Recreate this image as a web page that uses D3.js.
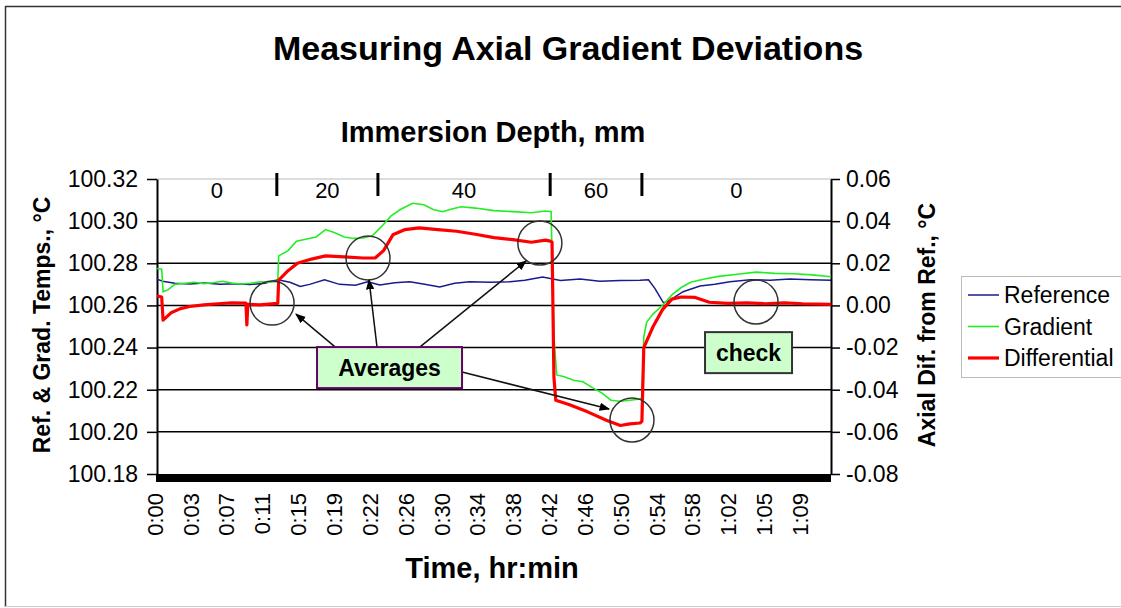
<!DOCTYPE html>
<html>
<head>
<meta charset="utf-8">
<script src="https://cdn.jsdelivr.net/npm/d3@7"></script>
<style>
  body { margin: 0; background: #fff; }
  text { font-family: "Liberation Sans", Arial, sans-serif; fill: #000; }
</style>
</head>
<body>
<div id="viz"></div>
<script>
// time axis labels (one every ~3.83 min)
const timeLabels = ["0:00", "0:03", "0:07", "0:11", "0:15", "0:19", "0:22", "0:26", "0:30", "0:34",
                    "0:38", "0:42", "0:46", "0:50", "0:54", "0:58", "1:02", "1:05", "1:09"];
const timeStep = 3.83;

// immersion depth segments (minutes)
const depthLabels = ["0", "20", "40", "60", "0"];
const depthBreaks = [0, 12.8, 23.6, 42.0, 51.8, 72];

const leftTicks = [100.18, 100.20, 100.22, 100.24, 100.26, 100.28, 100.30, 100.32];
const rightTicks = [-0.08, -0.06, -0.04, -0.02, 0.00, 0.02, 0.04, 0.06];

// [minutes, °C]
const reference = [
  [0, 100.2725], [0.6, 100.2715], [1.9, 100.2705], [3.5, 100.2702], [5.1, 100.2706], [6.7, 100.2700],
  [8.3, 100.2703], [9.9, 100.2699], [11.5, 100.2705], [12.9, 100.2722], [14.2, 100.2710], [15.3, 100.2690],
  [16.3, 100.2700], [17.9, 100.2722], [19.5, 100.2700], [21.2, 100.2696], [22.5, 100.2712], [23.8, 100.2697],
  [25.4, 100.2708], [27.0, 100.2712], [28.6, 100.2700], [30.2, 100.2687], [31.8, 100.2705], [33.4, 100.2712],
  [35.6, 100.2710], [37.7, 100.2712], [39.3, 100.2720], [41.2, 100.2735], [43.1, 100.2718], [45.2, 100.2725],
  [47.3, 100.2715], [49.5, 100.2718], [51.6, 100.2720], [52.5, 100.2722], [53.2, 100.2680], [54.1, 100.2612],
  [54.8, 100.2625], [56.2, 100.2665], [58.0, 100.2692], [59.6, 100.2700], [61.2, 100.2712], [63.4, 100.2722],
  [65.5, 100.2720], [67.6, 100.2726], [69.8, 100.2722], [72, 100.2720]
];

const gradient = [
  [0, 100.2775], [0.5, 100.2772], [0.65, 100.2665], [1.2, 100.2675], [1.9, 100.2700], [3, 100.2705],
  [4, 100.2710], [5, 100.2703], [6, 100.2708], [7, 100.2715], [8, 100.2706], [9, 100.2702], [10, 100.2705],
  [11, 100.2712], [12, 100.2710], [12.9, 100.2715], [13.0, 100.2835], [14.0, 100.2860], [14.9, 100.2905],
  [16, 100.2915], [17, 100.2925], [18, 100.2960], [19, 100.2945], [20, 100.2925], [21, 100.2918],
  [22, 100.2920], [23, 100.2930], [24, 100.2975], [25, 100.3025], [26, 100.3055], [27.3, 100.3085],
  [28.5, 100.3078], [29.5, 100.3055], [30.5, 100.3045], [31.5, 100.3058], [32.5, 100.3068], [34, 100.3062],
  [36, 100.3050], [38, 100.3045], [40, 100.3040], [41.5, 100.3048], [42.1, 100.3045], [42.4, 100.2450],
  [42.7, 100.2270], [43.5, 100.2262], [44.5, 100.2245], [45.5, 100.2238], [46.5, 100.2210], [47.5, 100.2185],
  [48.5, 100.2150], [49.5, 100.2145], [50.5, 100.2150], [51.4, 100.2155], [51.8, 100.2160], [52.0, 100.2450],
  [52.3, 100.2520], [53, 100.2560], [54, 100.2600], [55, 100.2650], [56, 100.2685], [57, 100.2710],
  [58.5, 100.2725], [60, 100.2738], [62, 100.2748], [64, 100.2758], [66, 100.2752], [68, 100.2750],
  [70, 100.2745], [72, 100.2736]
];

// [minutes, axial difference °C] (right axis)
const differential = [
  [0, 0.0045], [0.5, 0.0040], [0.65, -0.0070], [1.5, -0.0035], [2.5, -0.0015], [3.5, -0.0005], [5, 0.0003],
  [6.5, 0.0008], [8, 0.0012], [9.5, 0.0011], [9.6, -0.0092], [9.7, 0.0005], [11, 0.0003], [12.9, 0.0010],
  [13.0, 0.0120], [14.0, 0.0165], [15, 0.0200], [16.5, 0.0220], [18, 0.0235], [20, 0.0230], [22, 0.0225],
  [23.3, 0.0225], [24.2, 0.0260], [25.2, 0.0335], [26.5, 0.0360], [28, 0.0368], [30, 0.0360], [32, 0.0352],
  [34, 0.0338], [36, 0.0322], [38, 0.0312], [40, 0.0300], [41.5, 0.0310], [42, 0.0305], [42.2, 0.0300],
  [42.4, -0.0340], [42.6, -0.0450], [44, -0.0470], [46, -0.0505], [48, -0.0545], [49.5, -0.0570],
  [50.5, -0.0562], [51.6, -0.0558], [51.8, -0.0550], [52.0, -0.0200], [53, -0.0100], [54, -0.0020],
  [55, 0.0030], [56, 0.0040], [57.5, 0.0038], [59, 0.0015], [61, 0.0010], [63, 0.0012], [65, 0.0008],
  [67, 0.0012], [69, 0.0008], [72, 0.0005]
];

// annotations in data coordinates [minutes, °C]
const avgCircles = [[12.29, 100.2611], [22.54, 100.2825], [40.9, 100.2896], [50.74, 100.2056]];
const checkCircle = [63.99, 100.2616];
const averagesBox = [24.84, 100.2305];
const checkBox = [63.19, 100.2376];
const avgArrows = [
  [[19.02, 100.2403], [14.85, 100.2559]],
  [[23.5, 100.2403], [22.65, 100.2721]],
  [[28.1, 100.2403], [39.42, 100.2811]],
  [[32.58, 100.2284], [48.29, 100.2108]]
];

const width = 1121;
const height = 608;

const svg = d3.select("#viz").append("svg")
    .attr("width", width)
    .attr("height", height);

// outer frame
svg.append("line").attr("x1", 5.5).attr("x2", 5.5).attr("y1", 6).attr("y2", 607).attr("stroke", "#333").attr("stroke-width", 1.5);
svg.append("line").attr("x1", 5).attr("x2", 1121).attr("y1", 6.5).attr("y2", 6.5).attr("stroke", "#333").attr("stroke-width", 1.5);
svg.append("line").attr("x1", 5).attr("x2", 1121).attr("y1", 606.5).attr("y2", 606.5).attr("stroke", "#ccc");

const x = d3.scaleLinear().domain([0, 72]).range([157, 831]);
const yL = d3.scaleLinear().domain([100.18, 100.32]).range([474, 179]);
const yR = d3.scaleLinear().domain([-0.08, 0.06]).range([474, 179]);

// gridlines
svg.append("g")
  .selectAll("line")
  .data(leftTicks.slice(1, -1))
  .enter().append("line")
    .attr("x1", x(0)).attr("x2", x(72))
    .attr("y1", d => yL(d)).attr("y2", d => yL(d))
    .attr("stroke", "#000").attr("stroke-width", 1.5);

svg.append("line")
    .attr("x1", x(0)).attr("x2", x(72))
    .attr("y1", yL(100.32)).attr("y2", yL(100.32))
    .attr("stroke", "#bbb").attr("stroke-width", 1);

// left axis
const leftAxis = svg.append("g")
    .attr("transform", `translate(${x(0)},0)`)
    .call(d3.axisLeft(yL).tickValues(leftTicks).tickFormat(d3.format(".2f")).tickSize(10).tickSizeOuter(0));

// right axis
const rightAxis = svg.append("g")
    .attr("transform", `translate(${x(72)},0)`)
    .call(d3.axisRight(yR).tickValues(rightTicks).tickFormat(d3.format(".2f")).tickSize(9).tickSizeOuter(0));

[leftAxis, rightAxis].forEach(g => {
  g.select(".domain").attr("stroke", "#000").attr("stroke-width", 2);
  g.selectAll(".tick line").attr("stroke", "#000").attr("stroke-width", 1.5);
  g.selectAll(".tick text").attr("font-size", 23).attr("font-family", "Liberation Sans, Arial, sans-serif").attr("fill", "#111");
});
leftAxis.selectAll(".tick text").attr("x", -19);
rightAxis.selectAll(".tick text").attr("x", 15).text(d => d3.format(".2f")(d).replace("−", "-"));

// bottom axis (heavy bar) with rotated time labels
svg.append("rect")
    .attr("x", x(0) - 1).attr("y", yL(100.18))
    .attr("width", x(72) - x(0) + 1).attr("height", 8)
    .attr("fill", "#000");

svg.append("g")
  .selectAll("text")
  .data(timeLabels)
  .enter().append("text")
    .attr("transform", (d, i) => `translate(${x(i * timeStep) - 2},493) rotate(-90)`)
    .attr("text-anchor", "end")
    .attr("dy", "0.35em")
    .attr("font-size", 22)
    .attr("fill", "#111")
    .text(d => d);

// depth segments
svg.append("g")
  .selectAll("line")
  .data(depthBreaks.slice(1, -1))
  .enter().append("line")
    .attr("x1", d => x(d)).attr("x2", d => x(d))
    .attr("y1", 173).attr("y2", 196)
    .attr("stroke", "#000").attr("stroke-width", 3);

svg.append("g")
  .selectAll("text")
  .data(depthLabels)
  .enter().append("text")
    .attr("x", (d, i) => x((depthBreaks[i] + depthBreaks[i + 1]) / 2))
    .attr("y", 198)
    .attr("text-anchor", "middle")
    .attr("font-size", 22)
    .text(d => d);

// series
const lineL = d3.line().x(d => x(d[0])).y(d => yL(d[1]));
const lineR = d3.line().x(d => x(d[0])).y(d => yR(d[1]));

svg.append("path").datum(reference).attr("d", lineL)
    .attr("fill", "none").attr("stroke", "#1a1a8c").attr("stroke-width", 1.5);
svg.append("path").datum(gradient).attr("d", lineL)
    .attr("fill", "none").attr("stroke", "#22ee22").attr("stroke-width", 1.6);
svg.append("path").datum(differential).attr("d", lineR)
    .attr("fill", "none").attr("stroke", "#ff0000").attr("stroke-width", 3.2).attr("stroke-linejoin", "round");

// annotation circles
svg.append("g")
  .selectAll("circle")
  .data(avgCircles.concat([checkCircle]))
  .enter().append("circle")
    .attr("cx", d => x(d[0])).attr("cy", d => yL(d[1]))
    .attr("r", 22)
    .attr("fill", "none").attr("stroke", "#333").attr("stroke-width", 1.5);

// arrows
svg.append("defs").append("marker")
    .attr("id", "arrow")
    .attr("viewBox", "0 0 10 10")
    .attr("refX", 9).attr("refY", 5)
    .attr("markerWidth", 7).attr("markerHeight", 7)
    .attr("orient", "auto")
  .append("path")
    .attr("d", "M0,1L10,5L0,9z")
    .attr("fill", "#000");

svg.append("g")
  .selectAll("line")
  .data(avgArrows)
  .enter().append("line")
    .attr("x1", d => x(d[0][0])).attr("y1", d => yL(d[0][1]))
    .attr("x2", d => x(d[1][0])).attr("y2", d => yL(d[1][1]))
    .attr("stroke", "#111").attr("stroke-width", 1.5)
    .attr("marker-end", "url(#arrow)");

// label boxes
function labelBox(pos, label, w, h, stroke) {
  const cx = x(pos[0]);
  const cy = yL(pos[1]);
  svg.append("rect")
      .attr("x", cx - w / 2).attr("y", cy - h / 2)
      .attr("width", w).attr("height", h)
      .attr("fill", "#ccffcc")
      .attr("stroke", stroke).attr("stroke-width", 2);
  svg.append("text")
      .attr("x", cx).attr("y", cy)
      .attr("dy", "0.35em")
      .attr("text-anchor", "middle")
      .attr("font-size", 23)
      .attr("font-weight", "bold")
      .attr("fill", "#222")
      .text(label);
}
labelBox(averagesBox, "Averages", 145, 41, "#660066");
labelBox(checkBox, "check", 87, 41, "#333");

// titles
svg.append("text")
    .attr("x", 568).attr("y", 60)
    .attr("text-anchor", "middle")
    .attr("font-size", 34)
    .attr("font-weight", "bold")
    .text("Measuring Axial Gradient Deviations");

svg.append("text")
    .attr("x", 493).attr("y", 142)
    .attr("text-anchor", "middle")
    .attr("font-size", 29)
    .attr("font-weight", "bold")
    .text("Immersion Depth, mm");

svg.append("text")
    .attr("x", 492).attr("y", 578)
    .attr("text-anchor", "middle")
    .attr("font-size", 29)
    .attr("font-weight", "bold")
    .text("Time, hr:min");

svg.append("text")
    .attr("transform", "translate(50,325) rotate(-90)")
    .attr("text-anchor", "middle")
    .attr("font-size", 23)
    .attr("font-weight", "bold")
    .text("Ref. & Grad. Temps., °C");

svg.append("text")
    .attr("transform", "translate(935,325) rotate(-90)")
    .attr("text-anchor", "middle")
    .attr("font-size", 23)
    .attr("font-weight", "bold")
    .text("Axial Dif. from Ref., °C");

// legend
const legendItems = [
  { name: "Reference", color: "#1a1a8c", w: 1.5 },
  { name: "Gradient", color: "#22ee22", w: 1.6 },
  { name: "Differential", color: "#ff0000", w: 3.2 }
];

const legend = svg.append("g").attr("transform", "translate(961,276)");
legend.append("rect")
    .attr("x", 0.5).attr("y", 0.5)
    .attr("width", 170).attr("height", 101)
    .attr("fill", "#fff").attr("stroke", "#bbb");

const rows = legend.selectAll("g")
  .data(legendItems)
  .enter().append("g")
    .attr("transform", (d, i) => `translate(0,${19 + i * 31.5})`);
rows.append("line")
    .attr("x1", 7).attr("x2", 38)
    .attr("stroke", d => d.color).attr("stroke-width", d => d.w);
rows.append("text")
    .attr("x", 43).attr("dy", "0.35em")
    .attr("font-size", 23)
    .attr("fill", "#111")
    .text(d => d.name);
</script>
</body>
</html>
